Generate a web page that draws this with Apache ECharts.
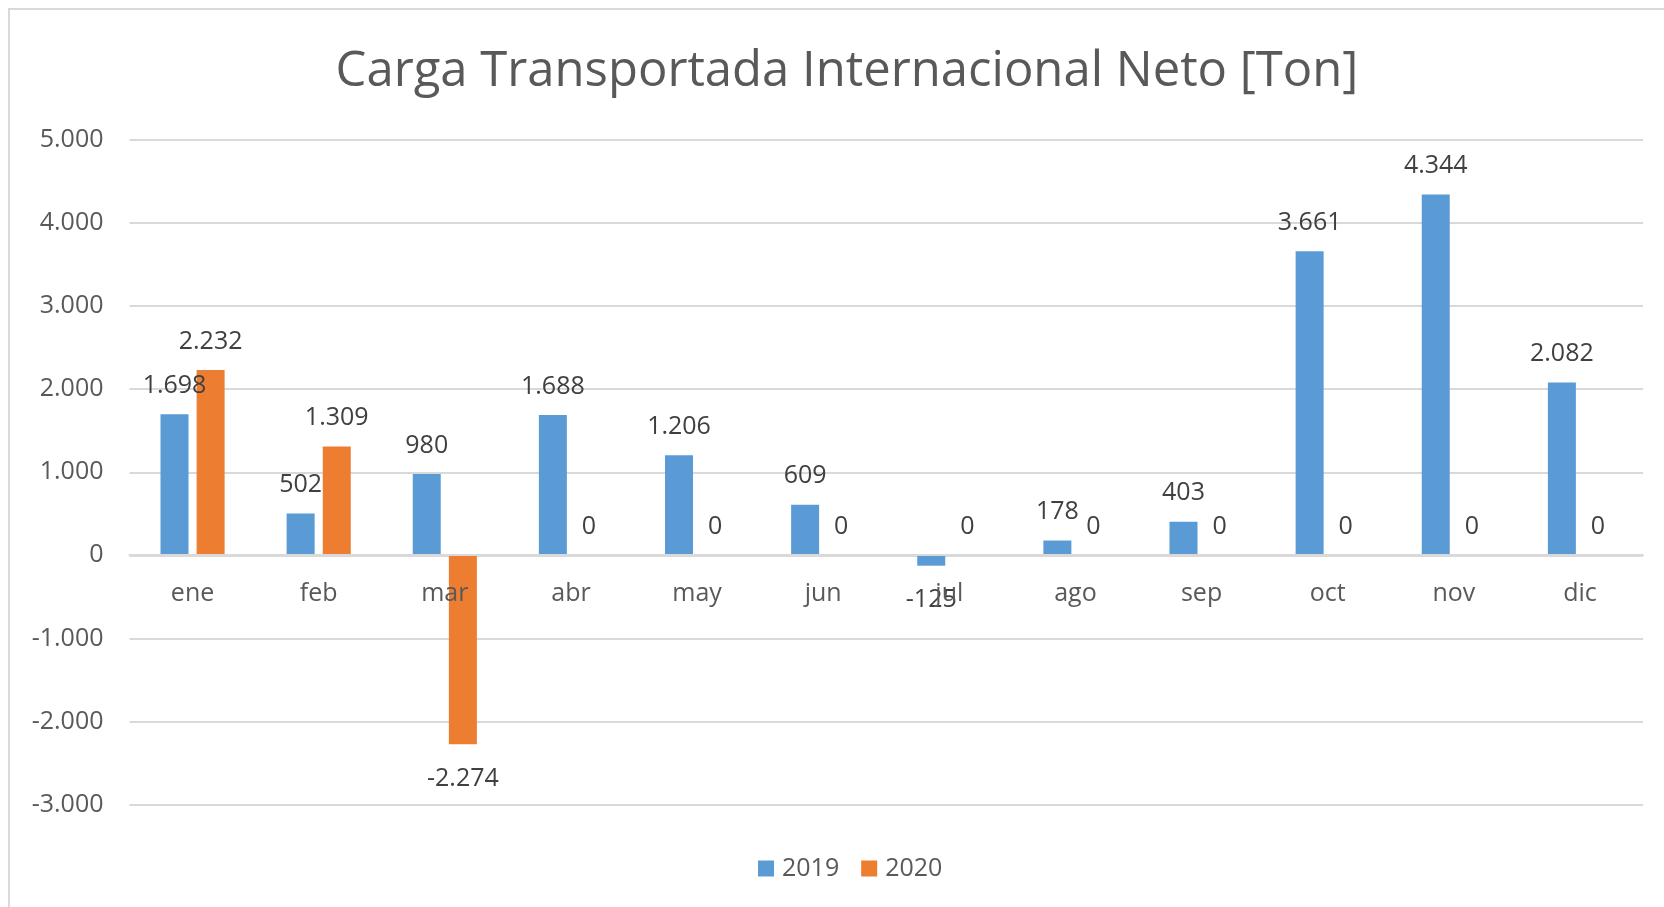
<!DOCTYPE html>
<html>
<head>
<meta charset="utf-8">
<title>Carga Transportada Internacional Neto [Ton]</title>
<script src="https://cdn.jsdelivr.net/npm/echarts@6/dist/echarts.min.js"></script>
<style>
  html, body { margin: 0; padding: 0; background: #fff; }
  #chart { width: 1664px; height: 907px; }
</style>
</head>
<body>
<div id="chart"></div>
<script>
// datos
const meses = ['ene', 'feb', 'mar', 'abr', 'may', 'jun', 'jul', 'ago', 'sep', 'oct', 'nov', 'dic']
const datos2019 = [1698, 502, 980, 1688, 1206, 609, -125, 178, 403, 3661, 4344, 2082]
const datos2020 = [2232, 1309, -2274, 0, 0, 0, 0, 0, 0, 0, 0, 0]

const FONT = '"Open Sans", "Noto Sans", sans-serif'

// separador de miles con punto
const fmt = v => {
  const s = String(Math.abs(v)).replace(/\B(?=(\d{3})+(?!\d))/g, '.')
  return v < 0 ? '-' + s : s
}

// etiquetas debajo de la barra si el valor es negativo
const conEtiquetas = vals => vals.map(v =>
  v < 0 ? { value: v, label: { position: 'bottom', distance: 22 } } : v
)

const chart = echarts.init(document.getElementById('chart'))

const labelStyle = {
  show: true,
  position: 'top',
  distance: 16,
  color: '#404040',
  fontSize: 25,
  fontFamily: FONT,
  formatter: p => fmt(p.value)
}

chart.setOption({
  animation: false,
  textStyle: { fontFamily: FONT },
  graphic: [{
    type: 'rect',
    shape: { x: 9, y: 9, width: 1700, height: 950 },
    style: { fill: 'none', stroke: '#d9d9d9', lineWidth: 2 },
    silent: true
  }],
  title: {
    text: 'Carga Transportada Internacional Neto [Ton]',
    left: 842,
    textAlign: 'center',
    top: 43,
    textStyle: { fontSize: 49, fontWeight: 'normal', color: '#595959', fontFamily: FONT }
  },
  legend: {
    data: ['2019', '2020'],
    left: 753,
    top: 851,
    icon: 'rect',
    itemWidth: 16,
    itemHeight: 16,
    itemGap: 22,
    textStyle: { fontSize: 25, color: '#595959', fontFamily: FONT, padding: [0, 0, 0, 3] }
  },
  grid: { left: 129.5, right: 21, top: 140, bottom: 102.5, containLabel: false },
  xAxis: {
    type: 'category',
    data: meses,
    // la línea de categorías va en el cero (el eje llega hasta -3.000)
    offset: -249.4,
    z: 3,
    axisLine: { onZero: false, lineStyle: { color: '#d9d9d9', width: 2 } },
    axisTick: { show: false },
    axisLabel: { color: '#595959', fontSize: 25, margin: 26, fontFamily: FONT }
  },
  yAxis: {
    type: 'value',
    min: -3000,
    max: 5000,
    interval: 1000,
    axisLine: { show: false },
    axisTick: { show: false },
    splitLine: { lineStyle: { color: '#d9d9d9', width: 2 } },
    axisLabel: { color: '#595959', fontSize: 25, margin: 26, fontFamily: FONT, formatter: v => fmt(v) }
  },
  series: [
    {
      name: '2019', type: 'bar',
      data: conEtiquetas(datos2019),
      barWidth: 28, barGap: '29%',
      itemStyle: { color: '#5b9bd5' },
      label: labelStyle
    },
    {
      name: '2020', type: 'bar',
      data: conEtiquetas(datos2020),
      barWidth: 28, barGap: '29%',
      itemStyle: { color: '#ed7d31' },
      label: labelStyle
    }
  ]
})
</script>
</body>
</html>
